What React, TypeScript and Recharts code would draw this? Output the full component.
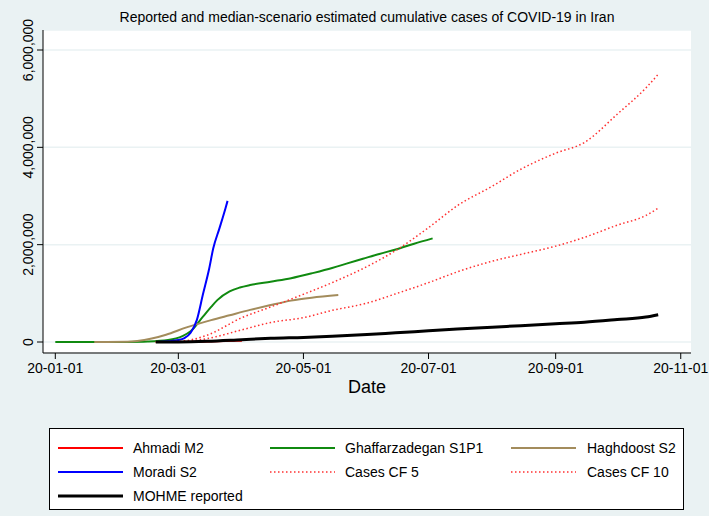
import { LineChart, Line, XAxis, YAxis, CartesianGrid } from 'recharts';

const FONT = '"Liberation Sans", Arial, Helvetica, sans-serif';

const title = 'Reported and median-scenario estimated cumulative cases of COVID-19 in Iran';

const xTickDates = ['2020-01-01', '2020-03-01', '2020-05-01', '2020-07-01', '2020-09-01', '2020-11-01'];
const xTickLabels = ['20-01-01', '20-03-01', '20-05-01', '20-07-01', '20-09-01', '20-11-01'];
const yTicks = [0, 2000000, 4000000, 6000000];

// Ahmadi M2 (mostly hidden under the reported line)
const ahmadiDates = ['2020-02-19', '2020-03-01', '2020-03-10', '2020-03-20', '2020-04-01'];
const ahmadiCases = [0, 2000, 6000, 14000, 28000];

// Ghaffarzadegan S1P1
const ghaffarDates = [
  '2020-01-01', '2020-01-21', '2020-02-05', '2020-02-15', '2020-02-25', '2020-03-03', '2020-03-07',
  '2020-03-13', '2020-03-17', '2020-03-20', '2020-03-26', '2020-03-31', '2020-04-05', '2020-04-15',
  '2020-04-25', '2020-05-06', '2020-05-15', '2020-05-22', '2020-05-30', '2020-06-07', '2020-06-15',
  '2020-06-24', '2020-07-03',
];
const ghaffarCases = [
  0, 0, 2000, 10000, 40000, 120000, 220000,
  520000, 720000, 860000, 1040000, 1120000, 1170000, 1240000,
  1310000, 1420000, 1520000, 1610000, 1710000, 1810000, 1900000,
  2020000, 2130000,
];

// Haghdoost S2
const haghDates = [
  '2020-01-20', '2020-02-05', '2020-02-10', '2020-02-17', '2020-02-24', '2020-03-05', '2020-03-17',
  '2020-03-26', '2020-04-05', '2020-04-15', '2020-04-25', '2020-05-05', '2020-05-18',
];
const haghCases = [
  0, 5000, 20000, 70000, 150000, 300000, 450000,
  550000, 660000, 760000, 850000, 910000, 965000,
];

// Moradi S2
const moradiDates = [
  '2020-02-20', '2020-03-01', '2020-03-04', '2020-03-07', '2020-03-10', '2020-03-13',
  '2020-03-16', '2020-03-18', '2020-03-21', '2020-03-24', '2020-03-25',
];
const moradiCases = [0, 40000, 80000, 190000, 450000, 980000, 1500000, 1920000, 2330000, 2750000, 2900000];

// reported series and the two case-fraction scenarios share dates
const reportDates = [
  '2020-02-19', '2020-03-01', '2020-03-15', '2020-04-01', '2020-04-15', '2020-05-01', '2020-05-15',
  '2020-06-01', '2020-06-15', '2020-07-01', '2020-07-15', '2020-08-01', '2020-08-15', '2020-09-01',
  '2020-09-15', '2020-10-01', '2020-10-15', '2020-10-21',
];
const cf5Cases = [
  0, 5000, 70000, 250000, 400000, 500000, 650000,
  800000, 990000, 1220000, 1440000, 1660000, 1800000, 1970000,
  2150000, 2400000, 2600000, 2750000,
];
const cf10Cases = [
  0, 10000, 140000, 500000, 720000, 980000, 1220000,
  1550000, 1880000, 2350000, 2800000, 3200000, 3550000, 3880000,
  4100000, 4680000, 5220000, 5500000,
];
const mohmeCases = [
  0, 1000, 14000, 48000, 76000, 95000, 117000,
  154000, 190000, 230000, 265000, 304000, 336000, 375000,
  407000, 461000, 513000, 560000,
];

const dayOf = (s: string) => (Date.parse(s) - Date.parse('2020-01-01')) / 86400000;
const toPoints = (dates: string[], values: number[]) =>
  dates.map((d, i) => ({ day: dayOf(d), cases: values[i] }));

const xTicks = xTickDates.map(dayOf);
const fmtX = (v: number) => xTickLabels[xTicks.indexOf(v)] ?? '';

const YTick = ({ y, payload }: any) => (
  <text
    x={33}
    y={y}
    transform={`rotate(-90 33 ${y})`}
    textAnchor="middle"
    fontSize={14}
    fill="#000"
    fontFamily={FONT}
  >
    {payload.value.toLocaleString('en-US')}
  </text>
);

const series = [
  { name: 'Ahmadi M2', data: toPoints(ahmadiDates, ahmadiCases), color: '#ff0000', width: 2, dash: undefined },
  { name: 'Ghaffarzadegan S1P1', data: toPoints(ghaffarDates, ghaffarCases), color: '#108a10', width: 2, dash: undefined },
  { name: 'Haghdoost S2', data: toPoints(haghDates, haghCases), color: '#a38c5c', width: 2, dash: undefined },
  { name: 'Moradi S2', data: toPoints(moradiDates, moradiCases), color: '#0000ff', width: 2, dash: undefined },
  { name: 'Cases CF 5', data: toPoints(reportDates, cf5Cases), color: '#ff3030', width: 1.5, dash: '1.5 2.5' },
  { name: 'Cases CF 10', data: toPoints(reportDates, cf10Cases), color: '#ff3030', width: 1.5, dash: '1.5 2.5' },
  { name: 'MOHME reported', data: toPoints(reportDates, mohmeCases), color: '#000000', width: 3, dash: undefined },
];

const legendCols = [
  { lineX: 8, textX: 83 },
  { lineX: 220, textX: 295 },
  { lineX: 461, textX: 537 },
];
const legendRows = [19, 43, 67];

export default function App() {
  return (
    <div
      style={{
        position: 'absolute',
        left: 0,
        top: 0,
        width: 709,
        height: 516,
        background: '#eaf2f3',
        fontFamily: FONT,
        overflow: 'hidden',
      }}
    >
      <div
        style={{
          position: 'absolute',
          left: 43,
          width: 648,
          top: 8,
          textAlign: 'center',
          fontSize: 14,
          lineHeight: '18px',
          color: '#000',
        }}
      >
        {title}
      </div>

      <LineChart width={709} height={400} margin={{ top: 30, right: 18, left: 0, bottom: 0 }}>
        <CartesianGrid vertical={false} stroke="#eaf2f3" strokeWidth={1.5} fill="#ffffff" />
        <XAxis
          dataKey="day"
          type="number"
          domain={[-6, 310]}
          allowDataOverflow
          ticks={xTicks}
          tickFormatter={fmtX}
          height={47}
          stroke="#000"
          tickSize={6}
          tickMargin={4}
          tick={{ fill: '#000', fontSize: 14, fontFamily: FONT }}
          label={{ value: 'Date', position: 'insideBottom', offset: 7, fill: '#000', fontSize: 18, fontFamily: FONT }}
        />
        <YAxis
          type="number"
          domain={[-226000, 6411000]}
          allowDataOverflow
          ticks={yTicks}
          width={43}
          stroke="#000"
          tickSize={6}
          tick={<YTick />}
        />
        {series.map((s) => (
          <Line
            key={s.name}
            data={s.data}
            dataKey="cases"
            name={s.name}
            type="monotone"
            stroke={s.color}
            strokeWidth={s.width}
            strokeDasharray={s.dash}
            dot={false}
            activeDot={false}
            isAnimationActive={false}
          />
        ))}
      </LineChart>

      <div
        style={{
          position: 'absolute',
          left: 49,
          top: 428,
          width: 635,
          height: 82,
          boxSizing: 'border-box',
          border: '1px solid #000',
          background: '#ffffff',
        }}
      >
        <svg width={633} height={80} style={{ position: 'absolute', left: 0, top: 0 }}>
          {series.map((s, i) => {
            const col = legendCols[i % 3];
            const cy = legendRows[Math.floor(i / 3)];
            return (
              <g key={s.name}>
                <line
                  x1={col.lineX}
                  x2={col.lineX + 65}
                  y1={cy}
                  y2={cy}
                  stroke={s.color}
                  strokeWidth={s.width}
                  strokeDasharray={s.dash}
                />
                <text x={col.textX} y={cy + 5} fontSize={14} fontFamily={FONT} fill="#000">
                  {s.name}
                </text>
              </g>
            );
          })}
        </svg>
      </div>
    </div>
  );
}
